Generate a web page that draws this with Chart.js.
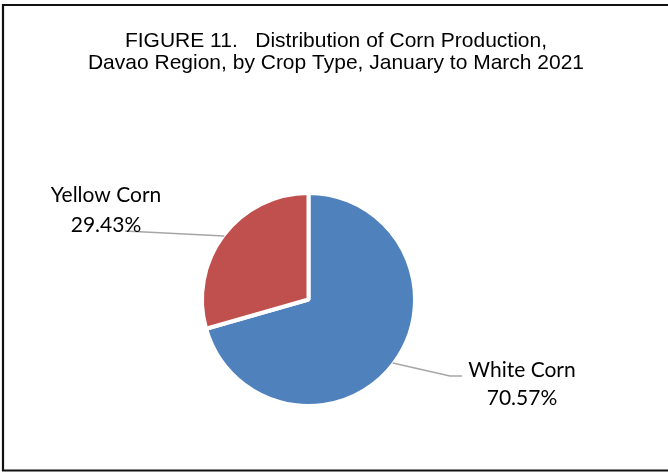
<!DOCTYPE html>
<html>
<head>
<meta charset="utf-8">
<script src="https://cdn.jsdelivr.net/npm/chart.js@4"></script>
<style>
  html, body { margin: 0; padding: 0; background: #fff; }
  #wrap { width: 668px; height: 473px; position: relative; }
</style>
</head>
<body>
<div id="wrap"><canvas id="c" width="668" height="473"></canvas></div>
<script>
// Corn production by crop type, Davao Region, Q1 2021
const cropTypes = ['White Corn', 'Yellow Corn'];
const shares = [70.57, 29.43];
const titleLines = [
  'FIGURE 11.   Distribution of Corn Production,',
  'Davao Region, by Crop Type, January to March 2021'
];

const sliceColors = ['#4F81BD', '#C0504D'];

// Where each slice's callout label sits: leader line path ends, then text block centre
const callouts = [
  { elbow: [450, 376], end: [462, 376], textX: 522, baselines: [376.5, 405] },
  { elbow: null,       end: [125, 231], textX: 106, baselines: [202, 231.5] }
];

const TITLE_CENTER = 336;

const framePlugin = {
  id: 'frameAndTitle',
  beforeDraw(chart) {
    const ctx = chart.ctx;
    ctx.save();
    ctx.fillStyle = '#fff';
    ctx.fillRect(0, 0, chart.width, chart.height);
    ctx.strokeStyle = '#111';
    ctx.lineWidth = 2.2;
    ctx.beginPath();
    ctx.moveTo(chart.width + 5, 5);
    ctx.lineTo(3, 5);
    ctx.lineTo(3, 470.5);
    ctx.lineTo(chart.width + 5, 470.5);
    ctx.stroke();

    ctx.fillStyle = '#000';
    ctx.font = '21px "Liberation Sans", Arial, sans-serif';
    ctx.textAlign = 'center';
    ctx.textBaseline = 'alphabetic';
    ctx.fillText(titleLines[0], TITLE_CENTER, 46.5);
    ctx.fillText(titleLines[1], TITLE_CENTER, 68.5);
    ctx.restore();
  }
};

const calloutPlugin = {
  id: 'callouts',
  afterDatasetsDraw(chart) {
    const ctx = chart.ctx;
    const meta = chart.getDatasetMeta(0);
    ctx.save();
    meta.data.forEach((arc, i) => {
      const p = arc.getProps(['x', 'y', 'startAngle', 'endAngle', 'outerRadius'], true);
      const mid = (p.startAngle + p.endAngle) / 2;
      const r = p.outerRadius - 1;
      const sx = p.x + Math.cos(mid) * r;
      const sy = p.y + Math.sin(mid) * r;
      const c = callouts[i];
      ctx.strokeStyle = '#A6A6A6';
      ctx.lineWidth = 1.5;
      ctx.beginPath();
      ctx.moveTo(sx, sy);
      if (c.elbow) ctx.lineTo(c.elbow[0], c.elbow[1]);
      ctx.lineTo(c.end[0], c.end[1]);
      ctx.stroke();

      ctx.fillStyle = '#000';
      ctx.font = '21px Lato, "Open Sans", sans-serif';
      ctx.textAlign = 'center';
      ctx.textBaseline = 'alphabetic';
      ctx.fillText(cropTypes[i], c.textX, c.baselines[0]);
      ctx.fillText(shares[i].toFixed(2) + '%', c.textX, c.baselines[1]);
    });
    ctx.restore();
  }
};

new Chart(document.getElementById('c'), {
  type: 'pie',
  data: {
    labels: cropTypes,
    datasets: [{
      data: shares,
      backgroundColor: sliceColors,
      borderColor: '#fff',
      borderWidth: 4
    }]
  },
  options: {
    responsive: false,
    animation: false,
    events: [],
    layout: { padding: { left: 200, right: 251, top: 191, bottom: 65 } },
    plugins: {
      legend: { display: false },
      title: { display: false },
      tooltip: { enabled: false }
    }
  },
  plugins: [framePlugin, calloutPlugin]
});
</script>
</body>
</html>
